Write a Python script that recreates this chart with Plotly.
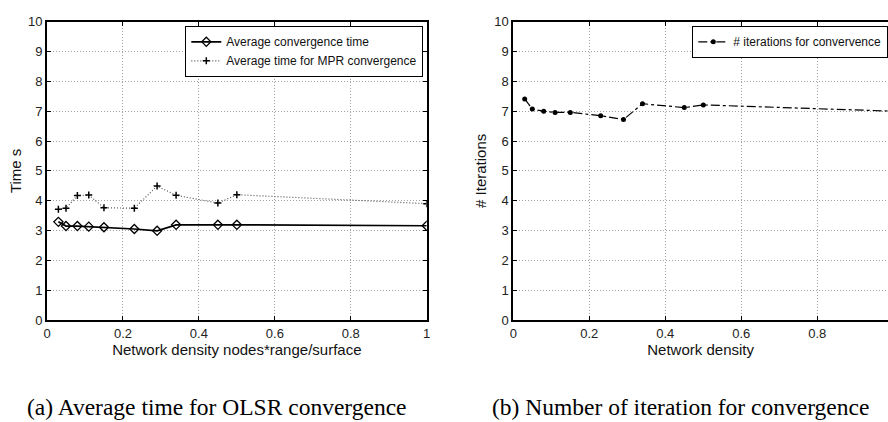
import plotly.graph_objects as go

density = [0.03, 0.05, 0.08, 0.11, 0.15, 0.23, 0.29, 0.34, 0.45, 0.50, 1.0]
avg_conv_time = [3.29, 3.15, 3.15, 3.13, 3.11, 3.05, 2.99, 3.19, 3.19, 3.19, 3.16]
mpr_conv_time = [3.71, 3.75, 4.17, 4.19, 3.76, 3.75, 4.49, 4.18, 3.92, 4.20, 3.90]
iterations = [7.41, 7.07, 7.00, 6.96, 6.96, 6.85, 6.72, 7.25, 7.12, 7.21, 7.00]

W, H = 888, 422
def px_x(p): return p / W
def px_y(p): return 1 - p / H

SANS = "Liberation Sans, Arial, sans-serif"
SERIF = "Liberation Serif, Times New Roman, serif"

fig = go.Figure()
fig.add_trace(go.Scatter(x=density, y=avg_conv_time, mode="lines+markers",
                         name="Average convergence time",
                         line=dict(color="black", width=1.7),
                         marker=dict(symbol="diamond-open", size=7, color="black", line=dict(width=1.3)),
                         xaxis="x", yaxis="y", legend="legend"))
fig.add_trace(go.Scatter(x=density, y=mpr_conv_time, mode="lines+markers",
                         name="Average time for MPR convergence",
                         line=dict(color="#555555", width=1.2, dash="1px,2px"),
                         marker=dict(symbol="cross-thin", size=5, color="black", line=dict(width=1.5, color="black")),
                         xaxis="x", yaxis="y", legend="legend"))
fig.add_trace(go.Scatter(x=density, y=iterations, mode="lines+markers",
                         name="# iterations for convervence",
                         line=dict(color="black", width=1.2, dash="dashdot"),
                         marker=dict(symbol="circle", size=5, color="black"),
                         xaxis="x2", yaxis="y2", legend="legend2"))

tickfont = dict(family=SANS, size=13, color="#222222")
titlefont = dict(family=SANS, size=15, color="#111111")
common_x = dict(dtick=0.2, tick0=0, showgrid=True, gridcolor="#a0a0a0", griddash="1px,2px", gridwidth=1,
                showline=True, linecolor="black", linewidth=1.8, ticks="inside", ticklen=4,
                tickcolor="black", tickfont=tickfont, zeroline=False, automargin=False,
                title_font=titlefont, title_standoff=0)
common_y = dict(range=[0, 10], dtick=1, showgrid=True, gridcolor="#a0a0a0", griddash="1px,2px", gridwidth=1,
                showline=True, linecolor="black", linewidth=1.8, ticks="inside", ticklen=4,
                tickcolor="black", tickfont=tickfont, zeroline=False, automargin=False,
                title_font=titlefont)

legend_font = dict(family=SANS, size=12, color="#111111")

fig.update_layout(
    template=None,
    width=W, height=H, margin=dict(l=0, r=0, t=0, b=0, autoexpand=False),
    paper_bgcolor="white", plot_bgcolor="white",
    xaxis=dict(domain=[px_x(47), px_x(426.7)], range=[0, 1], anchor="y", mirror="ticks",
               title_text="Network density nodes*range/surface", **common_x),
    yaxis=dict(domain=[px_y(320), px_y(21.7)], anchor="x", mirror="ticks",
               title_text="Time s", title_standoff=3, **common_y),
    xaxis2=dict(domain=[px_x(513.3), 1.0], range=[0, (888 - 513.3) / 380], anchor="y2", mirror="ticks",
                title_text="Network density", **common_x),
    yaxis2=dict(domain=[px_y(320), px_y(21.7)], anchor="x2", mirror=False,
                title_text="# Iterations", title_standoff=4, **common_y),
    legend=dict(x=px_x(423), y=px_y(26), xanchor="right", yanchor="top",
                bordercolor="black", borderwidth=1.3, bgcolor="white",
                font=legend_font, itemwidth=30, tracegroupgap=0),
    legend2=dict(x=1.0, y=px_y(26), xanchor="right", yanchor="top",
                 bordercolor="black", borderwidth=1.3, bgcolor="white",
                 font=legend_font, itemwidth=30),
    showlegend=True,
    hovermode=False,
    annotations=[
        dict(text="(a) Average time for OLSR convergence", x=px_x(216.5), y=px_y(407),
             xref="paper", yref="paper", showarrow=False, xanchor="center", yanchor="middle",
             font=dict(family=SERIF, size=23.5, color="black")),
        dict(text="(b) Number of iteration for convergence", x=px_x(680), y=px_y(407),
             xref="paper", yref="paper", showarrow=False, xanchor="center", yanchor="middle",
             font=dict(family=SERIF, size=23.5, color="black")),
    ],
)

fig.write_html("out.html", config={"displayModeBar": False},
               post_script="document.body.style.margin='0';document.body.style.padding='0';document.body.style.overflow='hidden';")
